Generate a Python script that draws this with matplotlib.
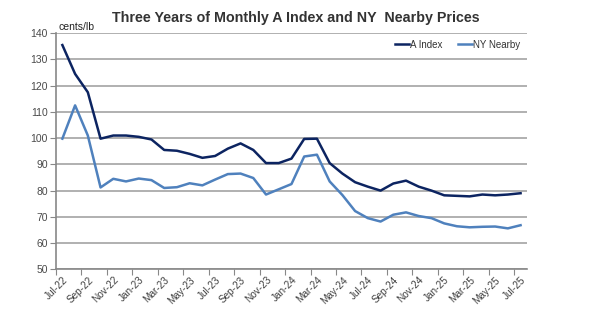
import matplotlib
matplotlib.use("Agg")
import matplotlib.pyplot as plt
import numpy as np

months = ["Jul-22", "Aug-22", "Sep-22", "Oct-22", "Nov-22", "Dec-22",
          "Jan-23", "Feb-23", "Mar-23", "Apr-23", "May-23", "Jun-23",
          "Jul-23", "Aug-23", "Sep-23", "Oct-23", "Nov-23", "Dec-23",
          "Jan-24", "Feb-24", "Mar-24", "Apr-24", "May-24", "Jun-24",
          "Jul-24", "Aug-24", "Sep-24", "Oct-24", "Nov-24", "Dec-24",
          "Jan-25", "Feb-25", "Mar-25", "Apr-25", "May-25", "Jun-25",
          "Jul-25"]

a_index = [135.5, 124.5, 117.5, 99.8, 101.0, 101.0,
           100.5, 99.5, 95.5, 95.2, 94.0, 92.5,
           93.2, 96.0, 98.0, 95.5, 90.5, 90.5,
           92.2, 99.7, 99.8, 90.5, 86.5, 83.2,
           81.5, 80.0, 82.7, 83.8, 81.5, 80.0,
           78.2, 78.0, 77.8, 78.5, 78.2, 78.5,
           79.0]

ny_nearby = [99.8, 112.5, 101.0, 81.2, 84.5, 83.5,
             84.6, 84.0, 81.0, 81.3, 82.8, 82.0,
             84.2, 86.3, 86.5, 84.8, 78.5, 80.5,
             82.5, 93.0, 93.7, 83.5, 78.3, 72.2,
             69.5, 68.2, 70.8, 71.7, 70.3, 69.5,
             67.5, 66.4, 66.0, 66.2, 66.3, 65.6,
             66.8]

y_ticks = [50, 60, 70, 80, 90, 100, 110, 120, 130, 140]

plt.rcParams["font.family"] = ["Liberation Sans", "DejaVu Sans"]

fig = plt.figure(figsize=(5.92, 3.26), dpi=100)
ax = fig.add_axes([0.0946, 0.174, 0.7955, 0.724])

x = np.arange(len(months))
ax.plot(x, a_index, color="#0c2461", lw=1.8, label="A Index")
ax.plot(x, ny_nearby, color="#4f81bd", lw=1.8, label="NY Nearby")

ax.set_ylim(50, 140)
ax.set_yticks(y_ticks)
ax.set_xlim(-0.5, len(months) - 0.5)

# tick marks sit between categories, labels on every other month
ax.set_xticks(np.arange(-0.5, len(months), 2))
ax.set_xticklabels([])
ax.set_xticks(x[::2], minor=True)
ax.set_xticklabels(months[::2], minor=True, rotation=45, ha="right",
                   va="top", rotation_mode="anchor", fontsize=7.2, color="#404040")
ax.tick_params(axis="x", which="minor", length=0, pad=4)
ax.tick_params(axis="x", which="major", length=4, color="#888888", direction="out")
ax.tick_params(axis="y", length=4, color="#888888", labelsize=7.5,
               labelcolor="#4a4a4a", pad=2)

ax.yaxis.grid(True, color="#aaaaaa", lw=1.3)
ax.set_axisbelow(True)
for side in ("top", "right"):
    ax.spines[side].set_visible(False)
for side in ("left", "bottom"):
    ax.spines[side].set_color("#888888")
    ax.spines[side].set_linewidth(1.2)

ax.text(0.005, 1.005, "cents/lb", transform=ax.transAxes, fontsize=7.5,
        color="#222222", ha="left", va="bottom")

fig.suptitle("Three Years of Monthly A Index and NY  Nearby Prices",
             x=0.5, y=0.965, fontsize=10.3, fontweight="bold", color="#333333")

ax.legend(loc="upper right", bbox_to_anchor=(1.005, 1.01), ncol=2, frameon=False,
          fontsize=7, handlelength=1.4, handletextpad=0.15, columnspacing=1.6,
          labelcolor="#333333")

fig.savefig("out.png", dpi=100)
